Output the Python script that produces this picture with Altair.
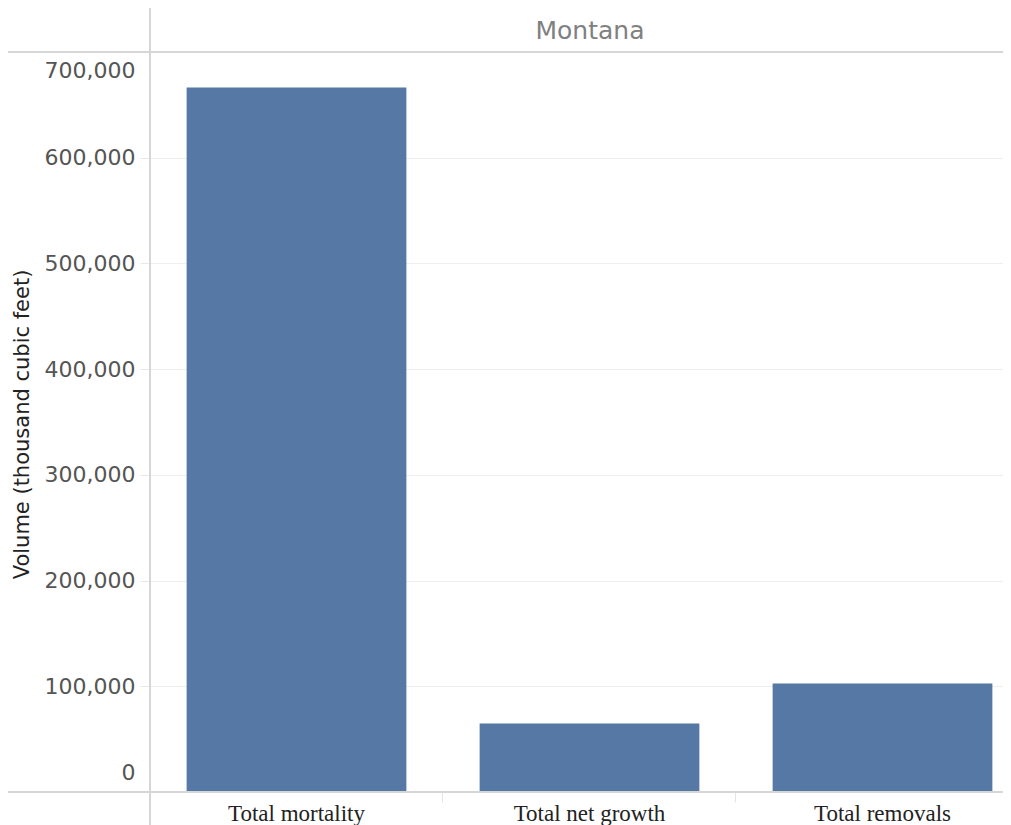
import altair as alt
import pandas as pd

categories = ["Total mortality", "Total net growth", "Total removals"]
values = [666500, 64700, 102600]
y_ticks = [0, 100000, 200000, 300000, 400000, 500000, 600000, 700000]
facet_label = ["Montana"]

df = pd.DataFrame({"Category": categories, "Volume": values})
one = pd.DataFrame({"k": [0]})
hdr = pd.DataFrame({"State": facet_label})

PLOT_W = 853
PLOT_H = 740
LINE = "#d6d6d6"

bars = alt.Chart(df).mark_bar(color="#5578a4").encode(
    x=alt.X(
        "Category:N",
        sort=categories,
        scale=alt.Scale(range=[0, 879], paddingInner=0.25, paddingOuter=0.125),
        axis=alt.Axis(
            title=None,
            labelAngle=0,
            labelFont="Liberation Serif",
            labelFontSize=23,
            labelColor="#222222",
            labelPadding=0,
            domain=False,
            ticks=True,
            bandPosition=-0.1667,
            tickSize=10,
            tickColor="#e4e4e4",
            grid=False,
        ),
    ),
    y=alt.Y(
        "Volume:Q",
        scale=alt.Scale(domain=[0, 700000], nice=False),
        axis=alt.Axis(
            title="Volume (thousand cubic feet)",
            titleFont="DejaVu Sans",
            titleFontSize=21,
            titleFontWeight="normal",
            titleColor="#222222",
            titleX=-128,
            titleY=372,
            titleAngle=270,
            titleBaseline="middle",
            titleAlign="center",
            values=y_ticks,
            format=",d",
            labelFont="DejaVu Sans",
            labelFontSize=22,
            labelColor="#555555",
            labelPadding=5,
            labelFlush=True,
            labelFlushOffset=-8,
            domain=False,
            ticks=True,
            tickSize=10,
            tickColor="#e8e8e8",
            grid=True,
            gridColor="#eeeeee",
            gridWidth=1,
        ),
    ),
)

header = alt.Chart(hdr).mark_text(
    font="DejaVu Sans", fontSize=25, color="#808080", baseline="middle", align="center"
).encode(text="State:N", x=alt.value(440), y=alt.value(-21))

top_line = alt.Chart(one).mark_rule(color=LINE, strokeWidth=2).encode(
    x=alt.value(-142), x2=alt.value(PLOT_W), y=alt.value(0)
)
bottom_line = alt.Chart(one).mark_rule(color=LINE, strokeWidth=2).encode(
    x=alt.value(-142), x2=alt.value(PLOT_W), y=alt.value(PLOT_H)
)
left_line = alt.Chart(one).mark_rule(color=LINE, strokeWidth=2).encode(
    x=alt.value(0), y=alt.value(-44), y2=alt.value(PLOT_H + 40)
)

chart = (
    alt.layer(bars, header, top_line, bottom_line, left_line)
    .properties(
        width=PLOT_W,
        height=PLOT_H,
        autosize=alt.AutoSizeParams(type="none"),
        padding={"left": 142, "top": 44, "right": 0, "bottom": 34},
    )
    .configure_view(strokeWidth=0)
)

chart.save("out.html", embed_options={"renderer": "svg", "actions": False})
